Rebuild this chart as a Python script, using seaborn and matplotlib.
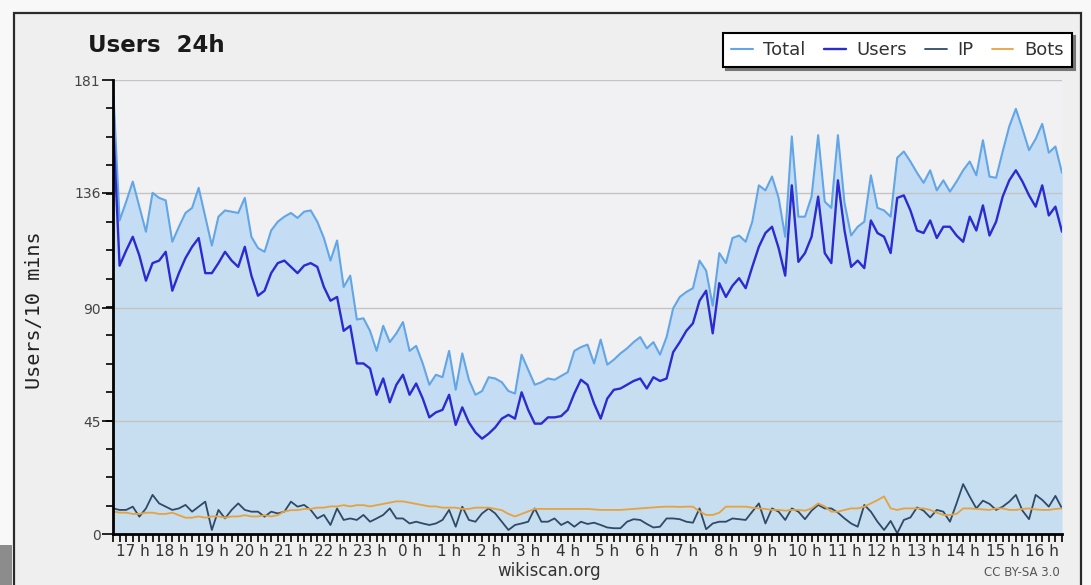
import numpy as np
import pandas as pd
import matplotlib
matplotlib.use("Agg")
import matplotlib.pyplot as plt
from matplotlib.patches import Rectangle
from matplotlib.ticker import MultipleLocator
import seaborn as sns

# Active users per 10-minute slot over the last 24 hours (145 slots)
total = [179, 125, 132.5, 140.5, 130.5, 120.5, 136, 134, 133, 116.5,
         122.5, 128, 130, 138, 126.5, 115, 126.5, 129, 128.5, 128,
         134, 118.5, 114, 112.5, 121, 124.5, 126.5, 128, 126, 128.5,
         129, 124.5, 118, 109, 117, 98.5, 103, 85.5, 86, 81,
         73, 83, 76.5, 80, 84.5, 73, 75, 68, 59.5, 63.5,
         62.5, 73, 57.5, 72, 61.5, 55.5, 57, 62.5, 62, 60.5,
         57, 56, 71.5, 65.5, 59.5, 60.5, 62, 61.5, 63, 64.5,
         73, 74.5, 75.5, 68, 77.5, 67.5, 69.5, 72, 74, 76.5,
         78.5, 74, 76.5, 71.5, 78.5, 90, 94.5, 96.5, 98, 109,
         105, 91, 112, 108, 118, 119, 116.5, 124.5, 139, 137,
         142.5, 134, 118.5, 158.5, 126.5, 126.5, 134.5, 159, 132.5, 130,
         159, 132, 119, 122.5, 124.5, 143, 130, 129, 126.5, 150,
         152.5, 148.5, 144, 140, 145, 137, 141, 136.5, 140.5, 145,
         148.5, 143, 157, 142.5, 142, 152.5, 162.5, 169.5, 161.5, 153,
         157.5, 163.5, 152, 154.5, 144]

users = [165, 107, 113, 118.5, 111, 101, 108, 109, 112.5, 97,
         104, 110, 114.5, 118, 104, 104, 108, 112.5, 109, 106.5,
         114.5, 103, 95, 97, 104, 108, 109, 106.5, 104, 107,
         108, 106.5, 98.5, 93, 94.5, 81, 83, 68, 68, 66,
         55.5, 62, 52.5, 59.5, 63.5, 55.5, 60, 54, 46.5, 48.5,
         49.5, 55.5, 43.5, 50.5, 44.5, 40.5, 38, 40, 42.5, 46,
         47.5, 46, 56.5, 49.5, 44, 44, 46.5, 46.5, 47, 49.5,
         56, 61.5, 59.5, 52, 46, 54, 57.5, 58, 59.5, 61,
         62, 58, 62.5, 61, 62, 72.5, 76.5, 81, 84, 93,
         97, 80, 100, 94.5, 99, 102, 98, 106.5, 114.5, 120,
         122.5, 114, 103, 139, 108.5, 112, 118.5, 134.5, 112, 108,
         141, 121, 106.5, 109, 106, 125, 120, 118.5, 112, 134,
         135, 129, 121, 120, 125, 118, 122.5, 122.5, 119, 116.5,
         126.5, 121, 131, 119, 124.5, 134.5, 141, 145, 140.5, 135,
         130.5, 139, 127, 130.5, 120.5]

ip = [10.2, 9.6, 9.6, 10.9, 6.9, 10.2, 15.6, 12.2, 10.9, 9.6,
      10.2, 11.6, 8.9, 10.9, 12.9, 1.6, 9.6, 6.2, 9.6, 12.2,
      9.6, 8.9, 8.9, 6.9, 8.9, 8.2, 8.9, 12.9, 10.9, 11.6,
      9.6, 6.2, 7.6, 3.6, 10.2, 5.6, 6.2, 5.6, 7.6, 4.9,
      6.2, 7.6, 10.2, 6.2, 6.2, 4.2, 4.9, 4.2, 3.6, 4.2,
      5.6, 9.6, 2.9, 10.9, 5.6, 4.9, 8.2, 10.2, 8.2, 4.9,
      1.6, 3.6, 4.2, 4.9, 10.2, 4.9, 4.9, 6.2, 3.6, 4.9,
      2.9, 4.9, 4.0, 4.5, 3.6, 2.6, 2.3, 2.3, 4.9, 5.9,
      5.6, 4.0, 2.6, 2.9, 6.2, 6.2, 5.9, 4.9, 4.5, 10.2,
      1.9, 4.2, 4.9, 4.9, 6.2, 5.9, 5.6, 8.9, 12.2, 4.2,
      10.2, 8.9, 5.6, 10.2, 8.9, 5.9, 9.3, 11.6, 10.2, 10.2,
      8.5, 6.2, 4.2, 2.9, 11.6, 8.9, 4.9, 1.6, 5.2, 0.3,
      5.6, 6.6, 10.6, 9.3, 6.6, 9.6, 8.9, 4.9, 12.2, 19.9,
      14.9, 10.2, 13.3, 12.0, 9.6, 10.9, 12.9, 15.6, 9.3, 5.9,
      15.6, 13.6, 10.9, 15.2, 10.2]

bots = [9, 8.5, 8.5, 8, 8, 8.5, 8.5, 8, 8, 8.5,
        7.5, 6.5, 6.5, 7, 6.5, 7, 7, 6.5, 7, 7,
        7.5, 7, 7, 7.5, 7, 7.5, 9, 9.5, 9.5, 10,
        10, 10.5, 10.5, 11, 11, 11.5, 11, 11.5, 11.5, 11,
        11.5, 12, 12.5, 13, 13, 12.5, 12, 11.5, 11, 11,
        10.5, 10.5, 10.5, 10, 10, 10.5, 10.5, 10.5, 10, 9.5,
        8, 7, 8, 9, 10, 10, 10, 10, 10, 10,
        10, 10, 10, 9.8, 9.6, 9.6, 9.6, 9.6, 9.8, 10,
        10.2, 10.4, 10.6, 10.8, 10.9, 10.9, 10.8, 10.9, 10.9, 9,
        7.6, 7.6, 8.5, 10.9, 10.9, 10.9, 10.9, 10.5, 10.2, 10,
        9.6, 9.6, 9.3, 9.6, 9.6, 9.3, 10.2, 12.2, 11, 8.9,
        8.9, 9.6, 10.2, 10.2, 10.9, 12.2, 13.5, 15, 10.2, 9.6,
        10.2, 10.2, 10.2, 10.2, 9.6, 8.5, 7.6, 7.6, 8, 10.2,
        10.2, 10, 9.8, 9.6, 10.2, 10.2, 9.6, 9.6, 10, 10.2,
        9.8, 9.6, 9.6, 10, 10.2]

hour_labels = ["17 h", "18 h", "19 h", "20 h", "21 h", "22 h", "23 h",
               "0 h", "1 h", "2 h", "3 h", "4 h", "5 h", "6 h", "7 h",
               "8 h", "9 h", "10 h", "11 h", "12 h", "13 h", "14 h",
               "15 h", "16 h"]
y_ticks = [0, 45, 90, 136, 181]

series_names = ["Total", "Users", "IP", "Bots"]
series_colors = ["#62a6e6", "#2b2bd0", "#2f4a66", "#e6a240"]

sns.set_theme(style="white")
plt.rcParams["font.family"] = ["DejaVu Sans"]

W, H = 1091, 585
fig = plt.figure(figsize=(W / 100, H / 100), dpi=100, facecolor="#f8f8f8")

# outer panel and its frame, kept behind the axes
fig.patches.append(Rectangle((14 / W, -0.05), (1081 - 14) / W, 1.05 - 13 / H,
                             transform=fig.transFigure, facecolor="#efefef",
                             edgecolor="#2b2b2b", lw=1.6, zorder=-2))
fig.patches.append(Rectangle((0, 0), 12 / W, 40 / H, transform=fig.transFigure,
                             facecolor="#8c8c8c", edgecolor="none", zorder=-1))

ax = fig.add_axes([113 / W, 1 - 534 / H, (1062 - 113) / W, (534 - 80) / H])
ax.set_facecolor("#f1f0f3")

slot = np.arange(len(total))
df = pd.DataFrame({"slot": slot, "Total": total, "Users": users,
                   "IP": ip, "Bots": bots})

ax.fill_between(df["slot"], df["Total"], color="#c6def0", lw=0, zorder=1)
ax.fill_between(df["slot"], df["Users"], df["Total"], color="#c4ddf5",
                lw=0, zorder=1)

widths = [1.5, 1.7, 1.3, 1.3]
for name, col, lw in zip(series_names, series_colors, widths):
    sns.lineplot(data=df, x="slot", y=name, ax=ax, color=col, lw=lw,
                 label=name, zorder=3)
handles, labels = ax.get_legend_handles_labels()
ax.get_legend().remove()

ax.set_xlim(0, len(total) - 1)
ax.set_ylim(0, 181)

# x axis: one tick per 10-minute slot, hour labels centred in each hour
xt_labels = [""] * len(total)
for k, lab in enumerate(hour_labels):
    xt_labels[3 + 6 * k] = lab
ax.set_xticks(slot)
ax.set_xticklabels(xt_labels)
ax.tick_params(axis="x", direction="out", length=6, width=1.2,
               color="black", pad=1, labelsize=11, labelcolor="#333333",
               bottom=True)

ax.set_yticks(y_ticks)
ax.set_yticklabels([str(v) for v in y_ticks])
ax.yaxis.set_minor_locator(MultipleLocator(181 / 16))
ax.tick_params(axis="y", which="major", direction="out", length=8,
               width=1.2, color="black", pad=1, labelsize=10,
               labelcolor="#444444", left=True)
ax.tick_params(axis="y", which="minor", direction="out", length=5,
               width=1.2, color="black", left=True)

ax.grid(axis="y", which="major", color="#c4c4c4", lw=1)
ax.set_axisbelow(False)
for side in ("top", "right"):
    ax.spines[side].set_visible(False)
for side in ("left", "bottom"):
    ax.spines[side].set_color("black")
    ax.spines[side].set_linewidth(2)
    ax.spines[side].set_zorder(4)

ax.set_xlabel("")
ax.set_ylabel("")

fig.text(88 / W, 1 - 45 / H, "Users  24h", fontsize=16.5, fontweight="bold",
         ha="left", va="center", color="#1a1a1a")
fig.text(35 / W, 1 - 310 / H, "Users/10 mins", rotation=90,
         family="DejaVu Sans Mono", fontsize=14.5, ha="center", va="center",
         color="#222222")
fig.text(549 / W, 1 - 571 / H, "wikiscan.org", fontsize=12, ha="center",
         va="center", color="#333333")
fig.text(1060 / W, 1 - 573 / H, "CC BY-SA 3.0", fontsize=8.5, ha="right",
         va="center", color="#555555")

leg = fig.legend(handles, labels, loc="upper right",
                 bbox_to_anchor=(1072 / W, 1 - 33 / H), ncol=4,
                 frameon=True, fancybox=False,
                 shadow={"color": "#777777", "alpha": 1},
                 edgecolor="black", facecolor="white", framealpha=1,
                 handlelength=1.2, handletextpad=0.6, columnspacing=1.0,
                 borderpad=0.45, borderaxespad=0, fontsize=13)
leg.get_frame().set_linewidth(1.5)
for t in leg.get_texts():
    t.set_color("#333333")

fig.savefig("out.png", dpi=100, facecolor=fig.get_facecolor())
